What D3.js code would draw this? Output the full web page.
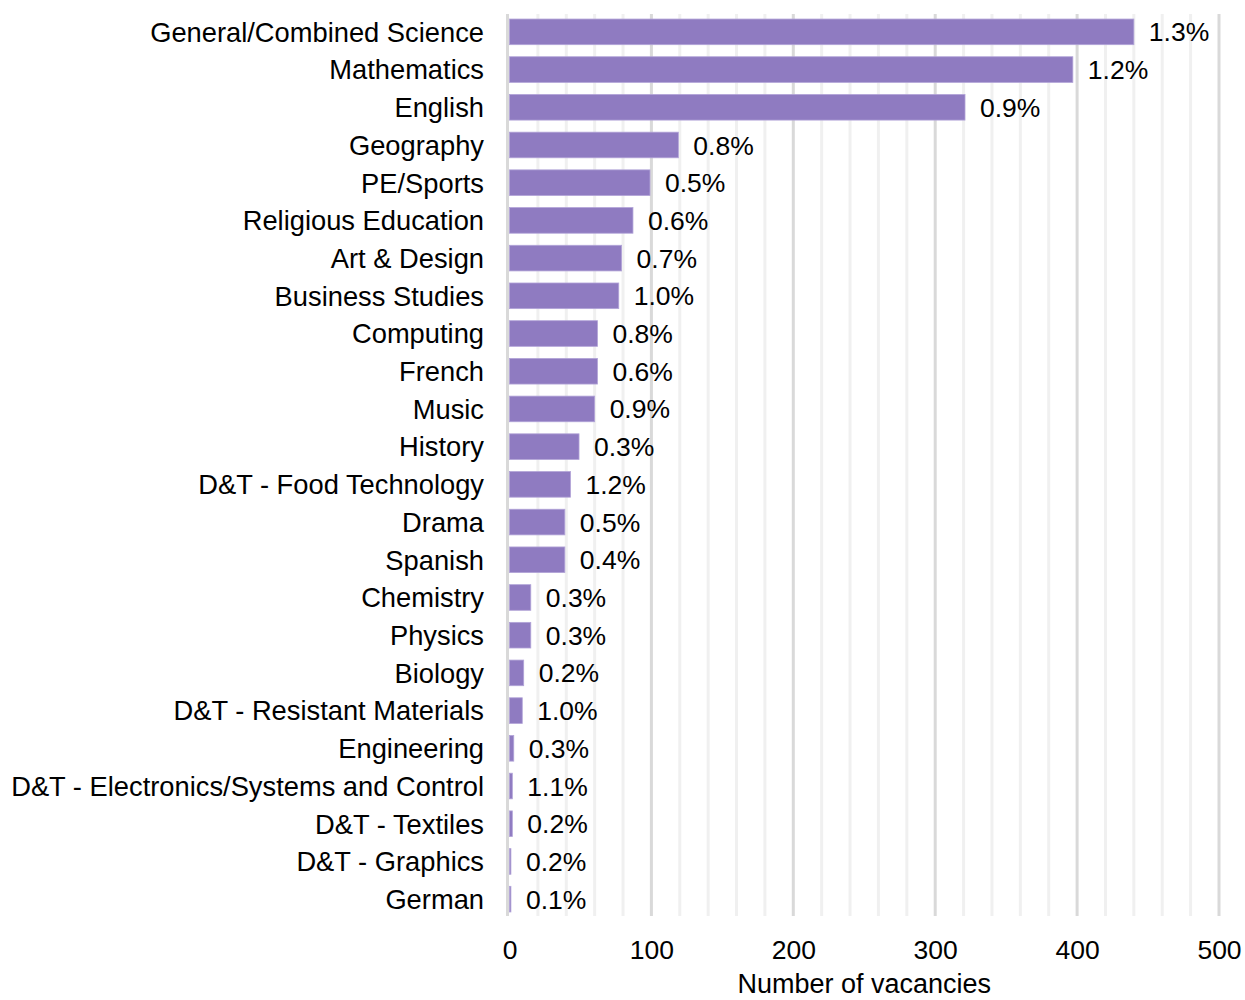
<!DOCTYPE html>
<html>
<head>
<meta charset="utf-8">
<script src="https://cdn.jsdelivr.net/npm/d3@7"></script>
<style>
  html, body { margin: 0; padding: 0; background: #fff; }
  svg text { font-family: "Liberation Sans", Arial, sans-serif; fill: #000; }
</style>
</head>
<body>
<svg id="chart" width="1245" height="1000"></svg>
<script>
// Vacancies by subject, with share of posts shown as a label
const subjects = [
  "General/Combined Science", "Mathematics", "English", "Geography", "PE/Sports",
  "Religious Education", "Art & Design", "Business Studies", "Computing", "French",
  "Music", "History", "D&T - Food Technology", "Drama", "Spanish", "Chemistry",
  "Physics", "Biology", "D&T - Resistant Materials", "Engineering",
  "D&T - Electronics/Systems and Control", "D&T - Textiles", "D&T - Graphics", "German"
];
const vacancies = [440, 397, 321, 119, 99, 87, 79, 77, 62, 62, 60, 49, 43, 39, 39, 15, 15, 10, 9, 3, 2, 2, 1, 1];
const shareLabels = ["1.3%", "1.2%", "0.9%", "0.8%", "0.5%", "0.6%", "0.7%", "1.0%", "0.8%", "0.6%",
  "0.9%", "0.3%", "1.2%", "0.5%", "0.4%", "0.3%", "0.3%", "0.2%", "1.0%", "0.3%",
  "1.1%", "0.2%", "0.2%", "0.1%"];
const majorTicks = [0, 100, 200, 300, 400, 500];
const minorTicks = d3.range(20, 500, 20).filter(v => v % 100 !== 0);
const axisTitle = "Number of vacancies";

const rows = subjects.map((s, i) => ({ subject: s, value: vacancies[i], label: shareLabels[i] }));

const svg = d3.select("#chart");
const plotLeft = 509.5, plotRight = 1219, plotTop = 13, plotBottom = 918;

const x = d3.scaleLinear().domain([0, 500]).range([plotLeft, plotRight]);
const y = d3.scaleBand().domain(subjects).range([plotTop, plotBottom]).paddingInner(0.32).paddingOuter(0.16);

// Vertical gridlines: light minor lines every 20, darker major lines every 100
svg.append("g").selectAll("line").data(minorTicks).join("line")
  .attr("x1", d => x(d)).attr("x2", d => x(d))
  .attr("y1", plotTop + 1).attr("y2", plotBottom - 2)
  .attr("stroke", "#f0f0f0").attr("stroke-width", 3);
svg.append("g").selectAll("line").data(majorTicks.slice(1)).join("line")
  .attr("x1", d => x(d)).attr("x2", d => x(d))
  .attr("y1", plotTop + 1).attr("y2", plotBottom - 2)
  .attr("stroke", "#d9d9d9").attr("stroke-width", 3);
// Zero baseline
svg.append("line")
  .attr("x1", x(0) - 2).attr("x2", x(0) - 2)
  .attr("y1", plotTop + 1).attr("y2", plotBottom - 2)
  .attr("stroke", "#d9d9d9").attr("stroke-width", 3);

// Bars
svg.append("g").selectAll("rect").data(rows).join("rect")
  .attr("x", x(0))
  .attr("y", d => y(d.subject))
  .attr("width", d => x(d.value) - x(0))
  .attr("height", y.bandwidth())
  .attr("fill", "#8f7bc1")
  .attr("stroke", "#b2a4d8")
  .attr("stroke-width", 0.8);

// Value labels
svg.append("g").selectAll("text").data(rows).join("text")
  .attr("x", d => x(d.value) + 15)
  .attr("y", d => y(d.subject) + y.bandwidth() / 2)
  .attr("dy", "0.36em")
  .attr("font-size", 26.5)
  .text(d => d.label);

// Category axis labels
svg.append("g").selectAll("text").data(rows).join("text")
  .attr("x", 484)
  .attr("y", d => y(d.subject) + y.bandwidth() / 2)
  .attr("dy", "0.36em")
  .attr("text-anchor", "end")
  .attr("font-size", 27.3)
  .text(d => d.subject);

// Value axis tick labels
const xAxis = d3.axisBottom(x).tickValues(majorTicks).tickSize(0).tickPadding(0);
const gx = svg.append("g").attr("transform", `translate(0, ${plotBottom + 22})`).call(xAxis);
gx.select(".domain").remove();
gx.selectAll("text").attr("font-size", 26.5).attr("dy", "0.72em")
  .style("font-family", '"Liberation Sans", Arial, sans-serif').attr("fill", "#000");

// Axis title
svg.append("text")
  .attr("x", (x(0) + x(500)) / 2)
  .attr("y", 993)
  .attr("text-anchor", "middle")
  .attr("font-size", 27)
  .text(axisTitle);
</script>
</body>
</html>
